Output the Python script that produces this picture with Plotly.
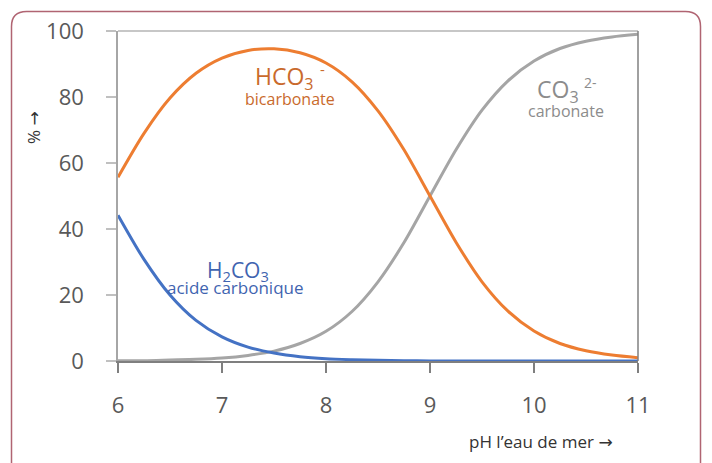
import plotly.graph_objects as go

# pH of sea water (x) and share of each dissolved inorganic carbon species (%)
ph = [6.0, 6.25, 6.5, 6.75, 7.0, 7.25, 7.5, 7.75, 8.0, 8.25, 8.5, 8.75,
      9.0, 9.25, 9.5, 9.75, 10.0, 10.25, 10.5, 10.75, 11.0]
h2co3 = [44.2, 30.8, 20.0, 12.3, 7.3, 4.2, 2.4, 1.3, 0.7, 0.4, 0.2, 0.1,
         0.0, 0.0, 0.0, 0.0, 0.0, 0.0, 0.0, 0.0, 0.0]
hco3 = [55.7, 69.0, 79.7, 87.2, 91.8, 94.1, 94.6, 93.4, 90.3, 84.6, 75.8, 64.0,
        50.0, 36.0, 24.0, 15.1, 9.1, 5.3, 3.1, 1.8, 1.0]
co3 = [0.1, 0.1, 0.3, 0.5, 0.9, 1.7, 3.0, 5.3, 9.0, 15.0, 24.0, 35.9,
       50.0, 64.0, 76.0, 84.9, 90.9, 94.7, 96.9, 98.2, 99.0]

x_ticks = [6, 7, 8, 9, 10, 11]
y_ticks = [0, 20, 40, 60, 80, 100]

ORANGE = "#ED7D31"
GREY = "#A5A5A5"
BLUE = "#4472C4"
FONT = "Open Sans"
ARROW = '<span style="font-family:DejaVu Sans">→</span>'

fig = go.Figure()
for vals, col in ((co3, GREY), (hco3, ORANGE), (h2co3, BLUE)):
    fig.add_trace(go.Scatter(x=ph, y=vals, mode="lines",
                             line=dict(color=col, width=3, shape="spline", smoothing=0.8),
                             hoverinfo="skip", showlegend=False))

W, H = 712, 463
L, R, T, B = 118, 74, 31, 102
pw, ph_px = W - L - R, H - T - B


def px(x):
    return (x - L) / pw


def py(y):
    return (H - B - y) / ph_px


# rounded outer frame
r = 15
x0, y0, x1, y1 = 11.5, 11.5, 700.5, 480
frame = (f"M {px(x0)} {py(y1)} L {px(x0)} {py(y0 + r)} "
         f"Q {px(x0)} {py(y0)} {px(x0 + r)} {py(y0)} "
         f"L {px(x1 - r)} {py(y0)} "
         f"Q {px(x1)} {py(y0)} {px(x1)} {py(y0 + r)} "
         f"L {px(x1)} {py(y1)}")
fig.add_shape(type="path", xref="paper", yref="paper", path=frame,
              line=dict(color="#B06472", width=1.5), layer="above")
# top and right edges of the plot box
fig.add_shape(type="line", xref="paper", yref="paper", x0=0, x1=1, y0=1, y1=1,
              line=dict(color="#B4B4B4", width=1.5))
fig.add_shape(type="line", xref="paper", yref="paper", x0=1, x1=1, y0=0, y1=1,
              line=dict(color="#808080", width=1.5))

ann = []


def label(text, x, y, size, color, xanchor="center"):
    ann.append(dict(text=text, x=x, y=y, xref="x", yref="y", showarrow=False,
                    xanchor=xanchor, yanchor="middle",
                    font=dict(family=FONT, size=size, color=color)))


LBL_OR = "#C96A2C"
LBL_GR = "#8C8C8C"
LBL_BL = "#3F64B0"
label("HCO<sub>3</sub>", 7.30, 85.8, 23, LBL_OR, "left")
label("-", 7.97, 88.5, 15, LBL_OR)
label("bicarbonate", 7.654, 79.5, 16, LBL_OR)
label("CO<sub>3</sub>", 10.01, 82.1, 23, LBL_GR, "left")
label("2-", 10.54, 84.4, 14, LBL_GR)
label("carbonate", 10.31, 75.8, 16, LBL_GR)
label("H<sub>2</sub>CO<sub>3</sub>", 6.837, 27.3, 21, LBL_BL, "left")
label("acide carbonique", 7.125, 22.4, 17, LBL_BL)

# axis titles
ann.append(dict(text="pH l’eau de mer " + ARROW, x=px(541), y=py(441), xref="paper", yref="paper",
                showarrow=False, xanchor="center", yanchor="middle",
                font=dict(family=FONT, size=17, color="#333333")))
ann.append(dict(text="% " + ARROW, x=px(33), y=py(128), xref="paper", yref="paper",
                showarrow=False, xanchor="center", yanchor="middle", textangle=-90,
                font=dict(family=FONT, size=17, color="#333333")))

fig.update_layout(
    width=W, height=H,
    margin=dict(l=L, r=R, t=T, b=B, pad=0),
    paper_bgcolor="white", plot_bgcolor="white",
    annotations=ann,
    xaxis=dict(range=[6, 11], tickvals=x_ticks, ticktext=[str(v) for v in x_ticks],
               showgrid=False, zeroline=False, showline=True, linecolor="#7F7F7F", linewidth=1.5,
               ticks="outside", ticklen=10, tickcolor="#7F7F7F", tickwidth=1.5,
               ticklabelstandoff=14,
               tickfont=dict(family=FONT, size=22, color="#595959")),
    yaxis=dict(range=[0, 100], tickvals=y_ticks, ticktext=[str(v) for v in y_ticks],
               showgrid=False, zeroline=False, showline=True, linecolor="#A6A6A6", linewidth=1.5,
               ticks="outside", ticklen=10, tickcolor="#C0C0C0", tickwidth=1.5,
               ticklabelstandoff=18,
               tickfont=dict(family=FONT, size=22, color="#595959")),
)

fig.write_html("out.html")
